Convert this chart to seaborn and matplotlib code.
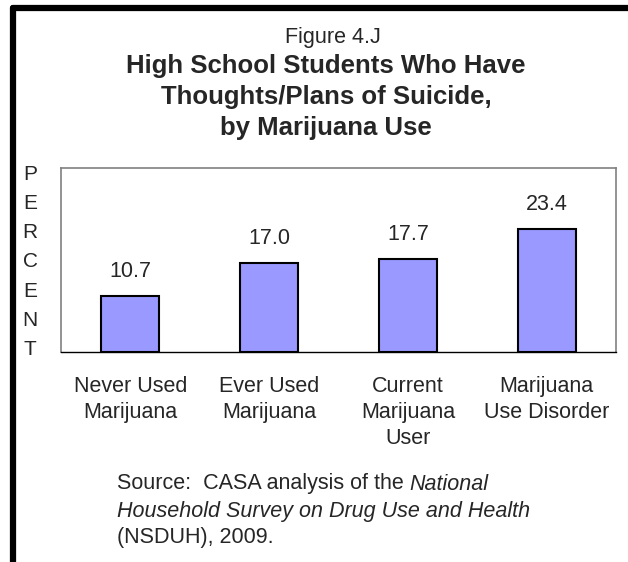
import numpy as np
import pandas as pd
import seaborn as sns
import matplotlib.pyplot as plt
from matplotlib.lines import Line2D

categories = ["Never Used\nMarijuana", "Ever Used\nMarijuana", "Current\nMarijuana\nUser", "Marijuana\nUse Disorder"]
percent = [10.7, 17.0, 17.7, 23.4]

sns.set_style("white")
plt.rcParams['font.family'] = ['Liberation Sans', 'DejaVu Sans']

df = pd.DataFrame({"group": categories, "percent": percent})

fig = plt.figure(figsize=(6.28, 5.62), dpi=100)
ax = fig.add_axes([0.097, 0.3737, 0.884, 0.3273])

sns.barplot(data=df, x="group", y="percent", color="#9999FF", edgecolor="black",
            linewidth=1.5, width=0.42, saturation=1, ax=ax)

ax.set_ylim(0, 35)
ax.set_xlim(-0.5, 3.5)
for c in ax.containers:
    ax.bar_label(c, labels=[f"{v:.1f}" for v in percent], padding=10, fontsize=15.5)

ax.set_yticks([])
ax.set_xlabel("")
ax.set_ylabel("")
ax.set_xticks(range(4))
ax.set_xticklabels(categories, fontsize=15.5, linespacing=1.32)
ax.tick_params(axis="x", which="major", length=0, pad=17)
ax.set_xticks(np.arange(-0.5, 4, 1), minor=True)
ax.tick_params(axis="x", which="minor", length=6, width=1, color="black", direction="out")
for s in ["left", "top", "right"]:
    ax.spines[s].set_color("#808080")
    ax.spines[s].set_linewidth(1.2)
ax.spines["bottom"].set_color("black")
ax.spines["bottom"].set_linewidth(1)

# vertical PERCENT label
for i, ch in enumerate("PERCENT"):
    fig.text(30 / 628, 1 - (174 + i * 29.3) / 562, ch, fontsize=15, ha="center", va="center")

# titles
fig.text(333 / 628, 1 - 37 / 562, "Figure 4.J", fontsize=15.5, ha="center", va="center")
title = "High School Students Who Have\nThoughts/Plans of Suicide,\nby Marijuana Use"
fig.text(326 / 628, 1 - 97 / 562, title, fontsize=18.5, fontweight="bold", ha="center",
         va="center", linespacing=1.38)

# source note with italics
fig.canvas.draw()
renderer = fig.canvas.get_renderer()
y1 = 1 - 484 / 562
t1 = fig.text(117 / 628, y1, "Source:  CASA analysis of the ", fontsize=15.5, va="center")
bb = t1.get_window_extent(renderer=renderer)
fig.text(bb.x1 / fig.bbox.width, y1, "National", fontsize=15.5, style="italic", va="center")
fig.text(117 / 628, 1 - 511 / 562, "Household Survey on Drug Use and Health", fontsize=15.5,
         style="italic", va="center")
fig.text(117 / 628, 1 - 537 / 562, "(NSDUH), 2009.", fontsize=15.5, va="center")

# thick frame on top and left
fig.add_artist(Line2D([13 / 628, 1.0], [1 - 8 / 562, 1 - 8 / 562], color="black", linewidth=4.5))
fig.add_artist(Line2D([13 / 628, 13 / 628], [1 - 8 / 562, 0], color="black", linewidth=4.5))

fig.savefig("out.png", dpi=100)
